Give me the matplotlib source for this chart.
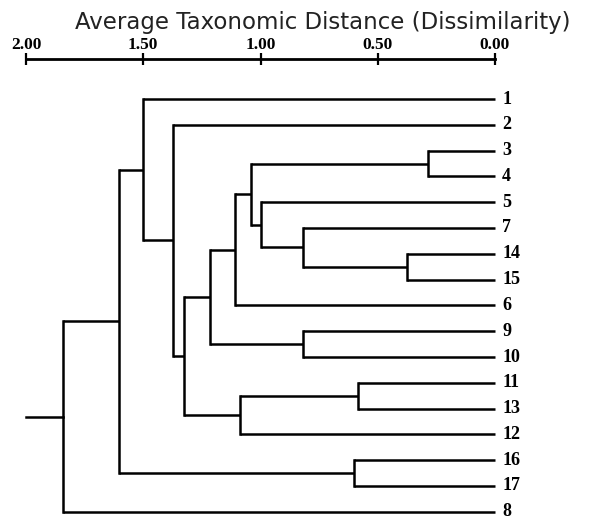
import matplotlib
matplotlib.use('Agg')
import matplotlib.pyplot as plt

# leaf order top to bottom, as drawn
leaves = ['1', '2', '3', '4', '5', '7', '14', '15', '6', '9', '10', '11', '13', '12', '16', '17', '8']

# merges: (child a, child b, distance); names are leaf labels or 'cN' for earlier merges
merges = [
    ('3', '4', 0.286),      # c0
    ('14', '15', 0.375),    # c1
    ('7', 'c1', 0.819),     # c2
    ('5', 'c2', 0.998),     # c3
    ('c0', 'c3', 1.040),    # c4
    ('c4', '6', 1.109),     # c5
    ('9', '10', 0.819),     # c6
    ('c5', 'c6', 1.215),    # c7
    ('11', '13', 0.584),    # c8
    ('c8', '12', 1.087),    # c9
    ('c7', 'c9', 1.326),    # c10
    ('2', 'c10', 1.375),    # c11
    ('1', 'c11', 1.503),    # c12
    ('16', '17', 0.601),    # c13
    ('c12', 'c13', 1.603),  # c14
    ('c14', '8', 1.842),    # c15
]
root_end = 2.0

ticks = [2.0, 1.5, 1.0, 0.5, 0.0]
tick_labels = ['2.00', '1.50', '1.00', '0.50', '0.00']
title = 'Average Taxonomic Distance (Dissimilarity)'

fig = plt.figure(figsize=(5.95, 5.2), dpi=100)
ax = fig.add_axes([0, 0, 1, 1])

# pixel mapping: d=0 at x=495, 234.5 px per unit; leaf 0 at y=99, 25.8 px per leaf
ax.set_xlim(495 / 234.5, (495 - 595) / 234.5)
ax.set_ylim((520 - 99) / 25.8, -99 / 25.8)

lw = 1.8
pos = {}   # name -> (distance, y)
for i, lab in enumerate(leaves):
    pos[lab] = (0.0, i)

for k, (a, b, h) in enumerate(merges):
    da, ya = pos[a]
    db, yb = pos[b]
    ax.plot([da, h], [ya, ya], color='black', lw=lw, solid_capstyle='butt')
    ax.plot([db, h], [yb, yb], color='black', lw=lw, solid_capstyle='butt')
    ax.plot([h, h], [ya, yb], color='black', lw=lw, solid_capstyle='projecting')
    pos['c%d' % k] = (h, (ya + yb) / 2)

top = 'c%d' % (len(merges) - 1)
ax.plot([pos[top][0], root_end], [pos[top][1], pos[top][1]], color='black', lw=lw)

for i, lab in enumerate(leaves):
    ax.text(-0.03, i, lab, ha='left', va='center', fontsize=13,
            family='Liberation Serif', fontweight='bold')

# distance scale on top
for s in ['left', 'right', 'bottom']:
    ax.spines[s].set_visible(False)
ax.spines['top'].set_position(('data', (59 - 99) / 25.8))
ax.spines['top'].set_bounds(0, 2)
ax.spines['top'].set_linewidth(2)
ax.set_yticks([])
ax.xaxis.set_ticks_position('top')
ax.set_xticks(ticks)
ax.set_xticklabels(tick_labels, family='Liberation Serif', fontweight='bold', fontsize=12.5)
ax.tick_params(axis='x', direction='inout', length=8, width=1.6, pad=0)

fig.text(323 / 595, 1 - 22 / 520, title, ha='center', va='center',
         fontsize=16.5, color='#222222', family='DejaVu Sans')

plt.savefig('out.png', dpi=100)
